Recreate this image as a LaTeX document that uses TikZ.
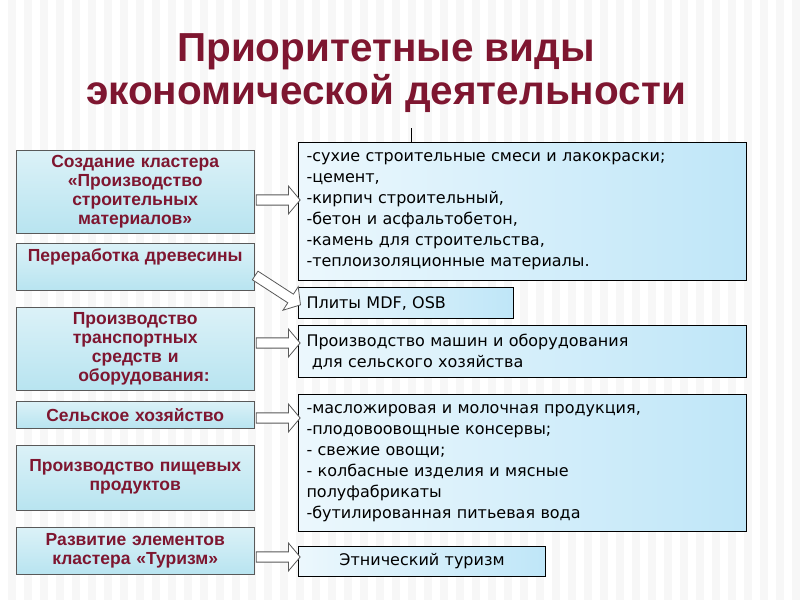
\documentclass[tikz,border=0pt]{standalone}
\usepackage{fontspec}
\setmainfont{Liberation Sans}
\newfontfamily\listfont{DejaVu Sans}
\usetikzlibrary{shapes.arrows}
\definecolor{titlered}{HTML}{7E1630}
\definecolor{boxcyan}{HTML}{B8E4F0}
\definecolor{boxblue}{HTML}{BFE6F8}
\tikzset{
  sector/.style={draw=gray!70!black, top color=boxcyan!50, bottom color=boxcyan,
    text=titlered, font=\bfseries\fontsize{17.5}{19}\selectfont, align=center,
    minimum width=238pt, text width=236pt, anchor=north west, inner sep=1pt},
  product/.style={draw=black, line width=1pt, left color=boxblue!30, right color=boxblue,
    font=\listfont\fontsize{16}{21}\selectfont, align=left, anchor=north west,
    inner xsep=8pt, inner ysep=2pt},
  link/.style={single arrow, draw=gray!70!black, thick, fill=white, minimum height=44pt,
    minimum width=28pt, single arrow head extend=5pt, single arrow tip angle=100, inner sep=2.5pt}
}
\begin{document}
\begin{tikzpicture}[x=1pt,y=-1pt]
	% background
	\fill[gray!6] (0,0) rectangle (800,600);
	\foreach \i in {0,16,...,784} \fill[white] (\i,0) rectangle (\i+8,600);
	\useasboundingbox (0,0) rectangle (800,600);

	% title
	\node[text=titlered, font=\bfseries\fontsize{40.5}{43}\selectfont, align=center] (title) at (386,73)
		{Приоритетные виды\\экономической деятельности};
	\draw (411,128) -- (411,142);

	% sectors
	\node[sector, minimum height=83pt] (build) at (16,150) {Создание кластера\\«Производство\\строительных\\материалов»};
	\node[sector, minimum height=47pt, text depth=24pt] (wood) at (16,243) {Переработка древесины};
	\node[sector, minimum height=83pt] (trans) at (16,307) {Производство\\транспортных\\средств и\\\quad оборудования:};
	\node[sector, minimum height=27pt] (agri) at (16,401) {Сельское хозяйство};
	\node[sector, minimum height=65pt, text depth=24pt] (food) at (16,445) {Производство пищевых\\продуктов};
	\node[sector, minimum height=47pt] (tour) at (16,527) {Развитие элементов\\кластера «Туризм»};

	% products
	\node[product, minimum width=448pt, minimum height=138pt, text width=432pt] (mat) at (298,142)
		{-сухие строительные смеси и лакокраски;\\-цемент,\\-кирпич строительный,\\-бетон и асфальтобетон,\\-камень для строительства,\\-теплоизоляционные материалы.};
	\node[product, minimum width=215pt, minimum height=31pt, text width=199pt] (mdf) at (298,287) {Плиты MDF, OSB};
	\node[product, minimum width=448pt, minimum height=52pt, text width=432pt] (mach) at (298,325)
		{Производство машин и оборудования\\\ для сельского хозяйства};
	\node[product, minimum width=448pt, minimum height=137pt, text width=432pt] (prod) at (298,394)
		{-масложировая и молочная продукция,\\-плодовоовощные консервы;\\- свежие овощи;\\- колбасные изделия и мясные\\полуфабрикаты\\-бутилированная питьевая вода};
	\node[product, minimum width=247pt, minimum height=30pt, text width=231pt, align=center] (ethno) at (298,546) {Этнический туризм};

	% links
	\node[link] (l1) at (276,200) {};
	\node[link, rotate=-33, minimum height=54pt] (l2) at (276,289) {};
	\node[link] (l3) at (276,343) {};
	\node[link] (l4) at (276,418) {};
	\node[link] (l5) at (276,557) {};
\end{tikzpicture}
\end{document}
